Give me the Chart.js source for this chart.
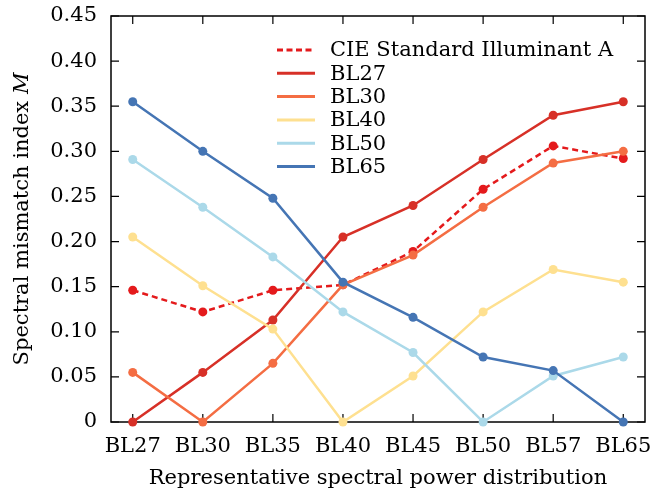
<!DOCTYPE html>
<html>
<head>
<meta charset="utf-8">
<script src="https://cdn.jsdelivr.net/npm/chart.js@4"></script>
<style>
  html, body { margin: 0; padding: 0; background: #fff; }
  #wrap { width: 665px; height: 494px; }
</style>
</head>
<body>
<div id="wrap"><canvas id="grafico"></canvas></div>
<script>
// categorias e valores
const categories = ['BL27', 'BL30', 'BL35', 'BL40', 'BL45', 'BL50', 'BL57', 'BL65'];
const cieA = [0.146, 0.122, 0.146, 0.152, 0.189, 0.258, 0.306, 0.292];
const bl27 = [0, 0.055, 0.113, 0.205, 0.240, 0.291, 0.340, 0.355];
const bl30 = [0.055, 0, 0.065, 0.152, 0.185, 0.238, 0.287, 0.300];
const bl40 = [0.205, 0.151, 0.103, 0, 0.051, 0.122, 0.169, 0.155];
const bl50 = [0.291, 0.238, 0.183, 0.122, 0.077, 0, 0.051, 0.072];
const bl65 = [0.355, 0.300, 0.248, 0.155, 0.116, 0.072, 0.057, 0];
const yTicks = [0, 0.05, 0.10, 0.15, 0.20, 0.25, 0.30, 0.35, 0.40, 0.45];

const FONT = '"DejaVu Serif", "Liberation Serif", serif';
const SIZE = 21;

// order: a ultima serie fica por cima, como na figura
function serie(label, values, color, order, dash) {
  return {
    label: label,
    data: values.map((v, i) => ({ x: i, y: v })),
    borderColor: color,
    backgroundColor: color,
    borderWidth: 2.5,
    borderDash: dash || [],
    pointRadius: 4.5,
    pointHoverRadius: 4.5,
    pointBorderWidth: 0,
    tension: 0,
    clip: false,
    order: order
  };
}

// moldura, marcas para dentro, legenda e titulos
const extras = {
  id: 'extras',
  beforeDatasetsDraw(chart) {
    const ctx = chart.ctx;
    const a = chart.chartArea;
    const xs = chart.scales.x, ys = chart.scales.y;
    ctx.save();
    ctx.strokeStyle = '#000';
    ctx.lineWidth = 1.5;
    ctx.strokeRect(a.left, a.top, a.right - a.left, a.bottom - a.top);
    ctx.lineWidth = 1.2;
    ctx.beginPath();
    categories.forEach((c, i) => {
      const px = xs.getPixelForValue(i);
      ctx.moveTo(px, a.bottom); ctx.lineTo(px, a.bottom - 8);
      ctx.moveTo(px, a.top); ctx.lineTo(px, a.top + 8);
    });
    yTicks.forEach(v => {
      const py = ys.getPixelForValue(v);
      ctx.moveTo(a.left, py); ctx.lineTo(a.left + 8, py);
      ctx.moveTo(a.right, py); ctx.lineTo(a.right - 8, py);
    });
    ctx.stroke();
    ctx.restore();
  },
  afterDraw(chart) {
    const ctx = chart.ctx;
    const a = chart.chartArea;
    ctx.save();
    // legenda
    ctx.font = SIZE + 'px ' + FONT;
    ctx.textBaseline = 'middle';
    ctx.fillStyle = '#000';
    chart.data.datasets.forEach((ds, i) => {
      const y = a.top + 34 + i * 23.3;
      ctx.strokeStyle = ds.borderColor;
      ctx.lineWidth = 3;
      ctx.setLineDash(ds.borderDash.length ? [6, 3.5] : []);
      ctx.beginPath();
      ctx.moveTo(a.left + 166, y);
      ctx.lineTo(a.left + 204, y);
      ctx.stroke();
      ctx.fillText(ds.label, a.left + 219, y + 1);
    });
    ctx.setLineDash([]);
    // titulo do eixo x
    ctx.textAlign = 'center';
    ctx.fillText('Representative spectral power distribution', (a.left + a.right) / 2, 479);
    // titulo do eixo y com M em italico
    const t1 = 'Spectral mismatch index ';
    const w1 = ctx.measureText(t1).width;
    ctx.font = 'italic ' + SIZE + 'px ' + FONT;
    const w2 = ctx.measureText('M').width;
    ctx.translate(23, (a.top + a.bottom) / 2);
    ctx.rotate(-Math.PI / 2);
    ctx.textAlign = 'left';
    ctx.font = SIZE + 'px ' + FONT;
    ctx.fillText(t1, -(w1 + w2) / 2, 0);
    ctx.font = 'italic ' + SIZE + 'px ' + FONT;
    ctx.fillText('M', -(w1 + w2) / 2 + w1, 0);
    ctx.restore();
  }
};

new Chart(document.getElementById('grafico'), {
  type: 'line',
  data: {
    datasets: [
      serie('CIE Standard Illuminant A', cieA, '#e41a1c', 5, [6, 4]),
      serie('BL27', bl27, '#d73027', 4),
      serie('BL30', bl30, '#f46d43', 3),
      serie('BL40', bl40, '#fee090', 2),
      serie('BL50', bl50, '#abd9e9', 1),
      serie('BL65', bl65, '#4575b4', 0)
    ]
  },
  options: {
    responsive: true,
    maintainAspectRatio: false,
    animation: false,
    layout: { padding: { left: 0, right: 20, top: 16, bottom: 0 } },
    plugins: { legend: { display: false }, tooltip: { enabled: false } },
    scales: {
      x: {
        type: 'linear',
        min: -0.31,
        max: 7.31,
        grid: { display: false, drawTicks: false },
        border: { display: false },
        afterFit(s) { s.height = 72; s.paddingLeft = 0; s.paddingRight = 0; },
        afterBuildTicks(s) { s.ticks = categories.map((c, i) => ({ value: i })); },
        ticks: {
          autoSkip: false,
          maxRotation: 0,
          padding: 12,
          color: '#000',
          font: { family: FONT, size: SIZE },
          callback: v => categories[v]
        }
      },
      y: {
        min: 0,
        max: 0.45,
        grid: { display: false, drawTicks: false },
        border: { display: false },
        afterFit(s) { s.width = 111; s.paddingTop = 0; s.paddingBottom = 0; },
        afterBuildTicks(s) { s.ticks = yTicks.map(v => ({ value: v })); },
        ticks: {
          padding: 14,
          color: '#000',
          font: { family: FONT, size: SIZE },
          callback: v => (v === 0 ? '0' : v.toFixed(2))
        }
      }
    }
  },
  plugins: [extras]
});
</script>
</body>
</html>
